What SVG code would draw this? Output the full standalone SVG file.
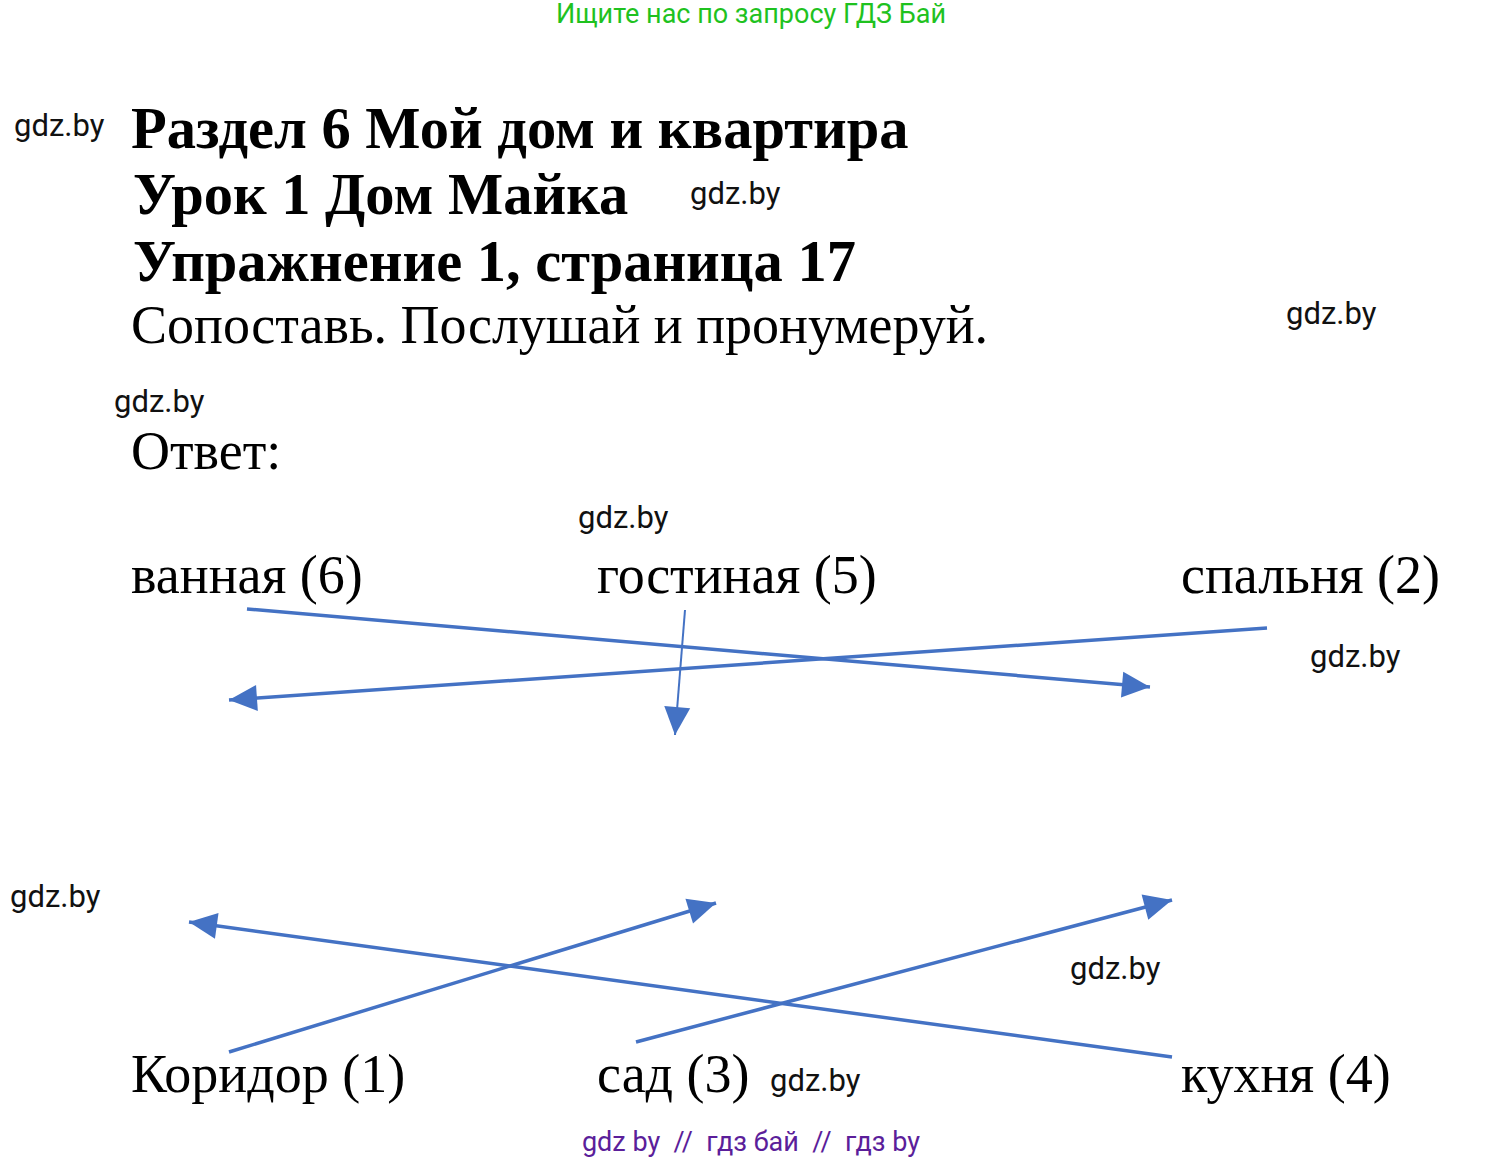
<svg xmlns="http://www.w3.org/2000/svg" width="1506" height="1160" viewBox="0 0 1506 1160">
<style>
.h{font-family:"Liberation Serif","Times New Roman",serif;font-weight:bold;font-size:58.5px;fill:#000}
.t{font-family:"Liberation Serif","Times New Roman",serif;font-size:54px;fill:#000}
.w{font-family:Roboto,"Liberation Sans",sans-serif;font-size:31px;fill:#111}
.c{stroke:#4472C4;stroke-width:3.5;fill:none}
</style>
<defs>
<marker id="ah" markerUnits="userSpaceOnUse" markerWidth="32" markerHeight="32" viewBox="0 0 32 32" refX="30" refY="16" orient="auto">
<path d="M2,3 L30,16 L2,29 Z" fill="#4472C4"/>
</marker>
</defs>
<rect width="1506" height="1160" fill="#fff"/>
<text x="751" y="23" text-anchor="middle" style="font-family:Roboto,'Liberation Sans',sans-serif;font-size:27px;fill:#1fc21f">Ищите нас по запросу ГДЗ Бай</text>
<g id="header">
<text class="h" x="131" y="148">Раздел 6 Мой дом и квартира</text>
<text class="h" x="133" y="214">Урок 1 Дом Майка</text>
<text class="h" x="133" y="281">Упражнение 1, страница 17</text>
<text class="t" x="131" y="343">Сопоставь. Послушай и пронумеруй.</text>
<text class="t" x="131" y="469">Ответ:</text>
</g>
<g id="watermarks">
<text class="w" x="14" y="136">gdz.by</text>
<text class="w" x="690" y="204">gdz.by</text>
<text class="w" x="1286" y="324">gdz.by</text>
<text class="w" x="114" y="412">gdz.by</text>
<text class="w" x="578" y="528">gdz.by</text>
<text class="w" x="1310" y="667">gdz.by</text>
<text class="w" x="10" y="907">gdz.by</text>
<text class="w" x="1070" y="979">gdz.by</text>
<text class="w" x="770" y="1091">gdz.by</text>
</g>
<g id="n-vannaya"><text class="t" x="131" y="593">ванная (6)</text></g>
<g id="n-gostinaya"><text class="t" x="597" y="593">гостиная (5)</text></g>
<g id="n-spalnya"><text class="t" x="1181" y="593">спальня (2)</text></g>
<g id="n-koridor"><text class="t" x="131" y="1092">Коридор (1)</text></g>
<g id="n-sad"><text class="t" x="597" y="1092">сад (3)</text></g>
<g id="n-kukhnya"><text class="t" x="1181" y="1092">кухня (4)</text></g>
<g id="connectors">
<line class="c" x1="247" y1="609" x2="1150" y2="687" marker-end="url(#ah)"/>
<line class="c" x1="1267" y1="628" x2="229" y2="700" marker-end="url(#ah)"/>
<line class="c" x1="685" y1="610" x2="675" y2="735" style="stroke-width:2" marker-end="url(#ah)"/>
<line class="c" x1="1172" y1="1057" x2="189" y2="922" marker-end="url(#ah)"/>
<line class="c" x1="229" y1="1052" x2="716" y2="903" marker-end="url(#ah)"/>
<line class="c" x1="636" y1="1042" x2="1172" y2="900" marker-end="url(#ah)"/>
</g>
<text x="751" y="1151" text-anchor="middle" style="font-family:Roboto,'Liberation Sans',sans-serif;font-size:27px;fill:#5b1e9a" xml:space="preserve">gdz by  //  гдз бай  //  гдз by</text>
</svg>
